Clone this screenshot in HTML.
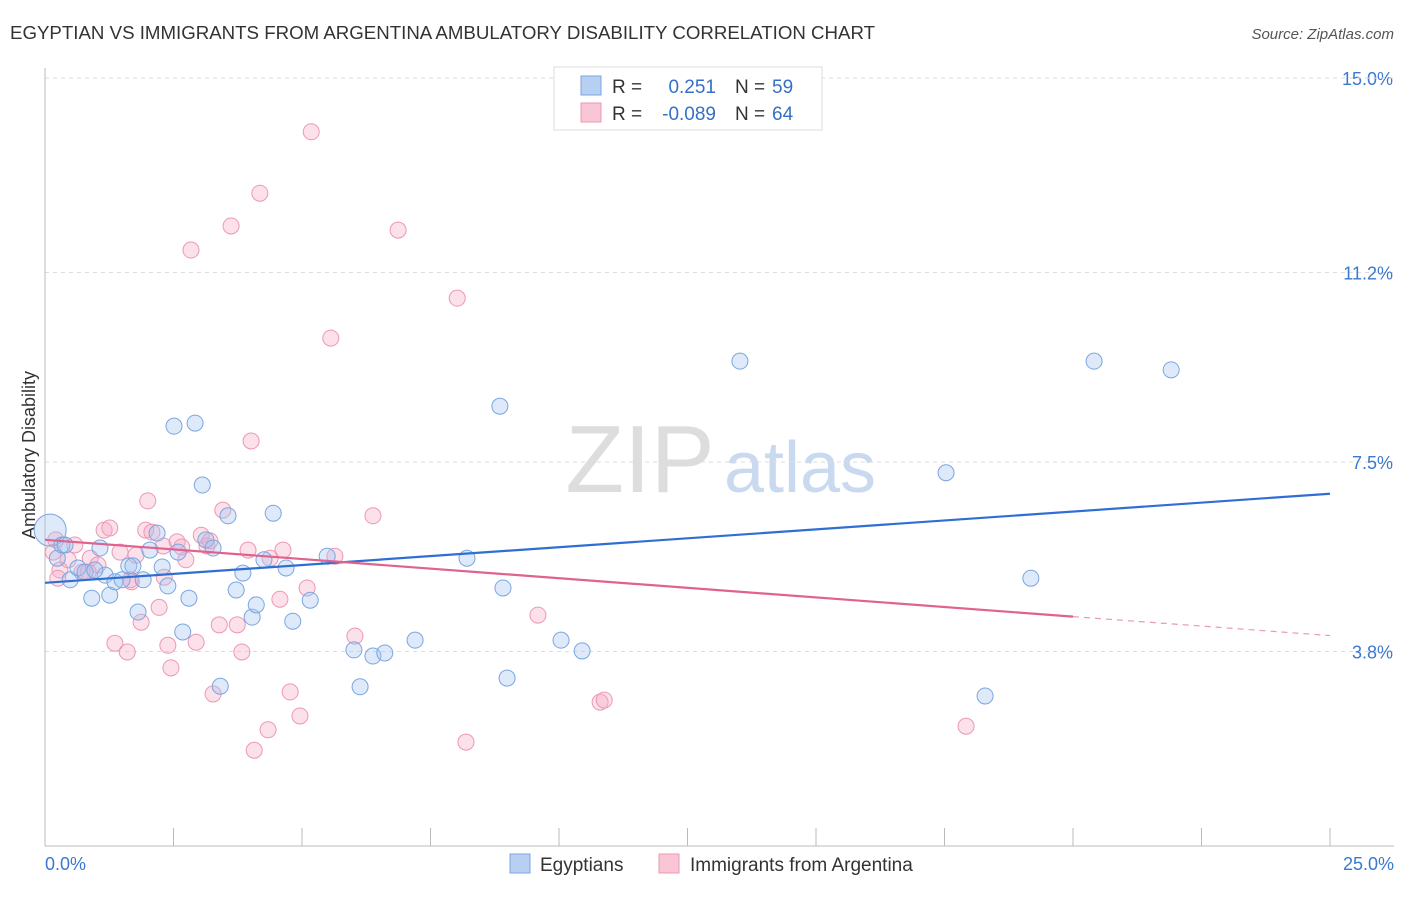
<!DOCTYPE html>
<html><head><meta charset="utf-8"><style>
body{margin:0;background:#fff;font-family:"Liberation Sans",sans-serif;}
svg text{font-family:"Liberation Sans",sans-serif;}
</style></head><body>
<svg id="chart" width="1406" height="892">
<text x="10" y="39" font-size="18" fill="#333" textLength="865" lengthAdjust="spacingAndGlyphs">EGYPTIAN VS IMMIGRANTS FROM ARGENTINA AMBULATORY DISABILITY CORRELATION CHART</text>
<text x="1394" y="39" font-size="15" fill="#555" font-style="italic" text-anchor="end">Source: ZipAtlas.com</text>
<text x="35" y="455" font-size="18" fill="#333" transform="rotate(-90 35 455)" text-anchor="middle">Ambulatory Disability</text>
<text x="640" y="492" font-size="96" fill="#ddd" font-family="Liberation Serif" text-anchor="middle">ZIP</text>
<text x="800" y="492" font-size="72" fill="#c9d9ef" text-anchor="middle">atlas</text>
<g id="grid"></g><g id="pts"></g><g id="lines"></g>
<g>
<rect x="554" y="67" width="268" height="63" fill="#fff" stroke="#ddd"/>
<rect x="581" y="76" width="20" height="19" fill="#b7d0f2" stroke="#7aa6e0"/>
<rect x="581" y="103" width="20" height="19" fill="#f9c6d5" stroke="#ec98b3"/>
<text x="612" y="93" font-size="19" fill="#333">R =</text><text x="716" y="93" font-size="19" fill="#3570c7" text-anchor="end">0.251</text>
<text x="735" y="93" font-size="19" fill="#333">N =</text><text x="772" y="93" font-size="19" fill="#3570c7">59</text>
<text x="612" y="120" font-size="19" fill="#333">R =</text><text x="716" y="120" font-size="19" fill="#3570c7" text-anchor="end">-0.089</text>
<text x="735" y="120" font-size="19" fill="#333">N =</text><text x="772" y="120" font-size="19" fill="#3570c7">64</text>
</g>
<g>
<rect x="510" y="854" width="20" height="19" fill="#b7d0f2" stroke="#7aa6e0"/>
<text x="540" y="871" font-size="19" fill="#333">Egyptians</text>
<rect x="659" y="854" width="20" height="19" fill="#f9c6d5" stroke="#ec98b3"/>
<text x="690" y="871" font-size="19" fill="#333">Immigrants from Argentina</text>
</g>
</svg>
<script>
const yTicks=[3.8,7.5,11.2,15.0];
const yTickLabels=["3.8%","7.5%","11.2%","15.0%"];
const xTickVals=[0,2.5,5,7.5,10,12.5,15,17.5,20,22.5,25];
const egyX=[0.1,0.24,0.33,0.49,0.64,0.78,0.91,1.07,1.17,1.26,1.36,1.5,1.63,1.71,1.81,1.91,2.04,2.18,2.28,2.39,2.51,2.59,2.68,2.8,2.92,3.06,3.13,3.27,3.41,3.56,3.72,3.85,4.03,4.11,4.26,4.44,4.69,4.82,5.16,5.49,6.01,6.13,6.38,6.61,7.2,8.21,8.85,8.91,8.99,10.04,10.45,13.52,17.53,18.29,19.18,20.41,21.91,0.39,0.97];
const egyY=[6.17,5.62,5.88,5.2,5.43,5.35,4.84,5.82,5.29,4.9,5.16,5.2,5.47,5.47,4.57,5.2,5.78,6.11,5.45,5.08,8.2,5.74,4.18,4.84,8.26,7.05,5.98,5.82,3.12,6.45,5.0,5.33,4.47,4.71,5.59,6.5,5.43,4.39,4.8,5.66,3.83,3.11,3.71,3.77,4.02,5.62,8.59,5.04,3.28,4.02,3.81,9.47,7.29,2.93,5.23,9.47,9.3,5.88,5.39];
const argX=[5.18,4.18,3.62,2.84,6.87,8.02,5.56,4.01,2.0,3.46,6.38,0.21,0.29,0.45,0.58,0.72,0.88,1.03,1.15,1.26,1.36,1.46,1.6,1.68,1.77,1.87,1.96,2.08,2.22,2.32,2.39,2.45,2.57,2.66,2.74,2.94,3.04,3.15,3.27,3.39,3.74,3.83,3.95,4.07,4.34,4.57,4.63,4.77,4.96,5.1,5.64,6.03,8.19,9.59,10.8,10.88,17.92,0.25,0.16,0.84,2.3,1.66,3.21,4.38];
const argY=[13.95,12.75,12.11,11.64,12.03,10.7,9.92,7.91,6.74,6.56,6.45,5.98,5.39,5.59,5.88,5.35,5.62,5.49,6.17,6.21,3.96,5.74,3.79,5.16,5.68,4.37,6.17,6.13,4.66,5.25,3.92,3.48,5.94,5.84,5.59,3.98,6.07,5.86,2.97,4.32,4.32,3.79,5.78,1.87,2.27,4.82,5.78,3.01,2.54,5.04,5.66,4.1,2.03,4.51,2.81,2.85,2.34,5.23,5.74,5.35,5.86,5.2,5.96,5.62];
const egyTrend=[5.14,6.88];
const argTrend=[5.98,4.48,4.11];
const X=v=>45+v*51.4, Y=v=>846-v*51.2;
const NS="http://www.w3.org/2000/svg";
function mk(tag,attrs,parent){const e=document.createElementNS(NS,tag);for(const k in attrs)e.setAttribute(k,attrs[k]);document.getElementById(parent).appendChild(e);return e;}
yTicks.forEach((t,i)=>{
 const l=mk('line',{x1:45,x2:1394,y1:Y(t),y2:Y(t),stroke:'#ddd','stroke-dasharray':'4 4'},'grid');
 
 
 const tx=mk('text',{x:1393,y:Y(t)+7,'font-size':18,fill:'#3b78d0','text-anchor':'end'},'grid');
 tx.textContent=yTickLabels[i];
 
 
});
const topLine=mk('line',{x1:45,x2:1394,y1:Y(15),y2:Y(15),stroke:'#ddd','stroke-dasharray':'4 4'},'grid');


const ax=mk('line',{x1:45,x2:1394,y1:846,y2:846,stroke:'#bbb'},'grid');


const ay=mk('line',{x1:45,x2:45,y1:68,y2:846,stroke:'#bbb'},'grid');


xTickVals.forEach(t=>{
 const l=mk('line',{x1:X(t),x2:X(t),y1:828,y2:846,stroke:'#bbb'},'grid');
 
 
});
const xl0=mk('text',{x:45,y:870,'font-size':18,fill:'#3b78d0'},'grid');xl0.textContent='0.0%';


const xl1=mk('text',{x:1394,y:870,'font-size':18,fill:'#3b78d0','text-anchor':'end'},'grid');xl1.textContent='25.0%';


argX.forEach((v,i)=>{
 const c=mk('circle',{cx:X(v),cy:Y(argY[i]),r:8,fill:'rgba(245,170,195,0.35)',stroke:'#ec98b3','stroke-width':1},'pts');
 
 
});
egyX.forEach((v,i)=>{
 const c=mk('circle',{cx:X(v),cy:Y(egyY[i]),r:i==0?16:8,fill:'rgba(160,195,240,0.35)',stroke:'#7aa6e0','stroke-width':1},'pts');
 
 
});
const bl=mk('line',{x1:X(0),y1:Y(egyTrend[0]),x2:X(25),y2:Y(egyTrend[1]),stroke:'#2f6fd4','stroke-width':2.2},'lines');


const pl=mk('line',{x1:X(0),y1:Y(argTrend[0]),x2:X(20),y2:Y(argTrend[1]),stroke:'#e0628f','stroke-width':2.2},'lines');


const pd=mk('line',{x1:X(20),y1:Y(argTrend[1]),x2:X(25),y2:Y(argTrend[2]),stroke:'#e89ab5','stroke-width':1.2,'stroke-dasharray':'6 5'},'lines');


</script>
</body></html>
